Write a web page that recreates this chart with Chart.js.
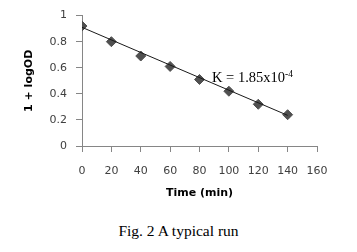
<!DOCTYPE html>
<html>
<head>
<meta charset="utf-8">
<script src="https://cdn.jsdelivr.net/npm/chart.js@4"></script>
<style>
  html, body { margin: 0; padding: 0; background: #fff; }
  #wrap { position: relative; width: 357px; height: 252px; }
  #chartBox { position: absolute; left: 0; top: 0; width: 357px; height: 200px; }
  #caption {
    position: absolute; left: 0; top: 223px; width: 357px; line-height: 16px;
    text-align: center; font-size: 15.5px; font-family: "Liberation Serif", serif; color: #000;
  }
</style>
</head>
<body>
<div id="wrap">
  <div id="chartBox"><canvas id="chartRun"></canvas></div>
  <div id="caption">Fig. 2 A typical run</div>
</div>
<script>
const timeMin = [0, 20, 40, 60, 80, 100, 120, 140];
const logOD = [0.92, 0.80, 0.69, 0.61, 0.51, 0.42, 0.32, 0.24];
const trendTime = [0, 140];
const trendValue = [0.91, 0.235];
const xTicks = [0, 20, 40, 60, 80, 100, 120, 140, 160];
const yTicks = [0, 0.2, 0.4, 0.6, 0.8, 1];

const axisGrey = '#868686';
const labelFont = { family: 'DejaVu Sans', size: 11 };
const titleFont = { family: 'DejaVu Sans', size: 11, weight: 'bold' };

// K label sits on the chart like the excel text box
const kLabel = {
    id: 'kLabel',
    afterDatasetsDraw(chart) {
        const ctx = chart.ctx;
        const x = chart.scales.x.getPixelForValue(88.5);
        const y = chart.scales.y.getPixelForValue(0.49);
        ctx.save();
        ctx.fillStyle = '#000';
        ctx.textBaseline = 'alphabetic';
        ctx.font = '14.5px "Liberation Serif"';
        const main = 'K = 1.85x10';
        ctx.fillText(main, x, y);
        const w = ctx.measureText(main).width;
        ctx.font = '9.5px "Liberation Serif"';
        ctx.fillText('-4', x + w, y - 5.5);
        ctx.restore();
    }
};

const ctx = document.getElementById('chartRun').getContext('2d');
new Chart(ctx, {
    type: 'scatter',
    data: {
        datasets: [
            {
                label: 'trend',
                data: trendTime.map((t, i) => ({ x: t, y: trendValue[i] })),
                showLine: true,
                borderColor: '#1a1a1a',
                borderWidth: 1,
                pointRadius: 0,
                order: 0
            },
            {
                label: '1 + logOD',
                data: timeMin.map((t, i) => ({ x: t, y: logOD[i] })),
                pointStyle: 'rectRot',
                pointRadius: 5,
                backgroundColor: '#505050',
                borderColor: '#505050',
                borderWidth: 1,
                order: 1
            }
        ]
    },
    options: {
        responsive: true,
        maintainAspectRatio: false,
        animation: false,
        layout: { padding: { left: 23, right: 40, top: 10, bottom: 0 } },
        plugins: { legend: { display: false }, tooltip: { enabled: false } },
        scales: {
            x: {
                type: 'linear',
                min: 0,
                max: 160,
                afterBuildTicks: (s) => { s.ticks = xTicks.map(v => ({ value: v })); },
                afterFit: (s) => { s.height = 54; },
                grid: { drawOnChartArea: false, drawTicks: true, tickLength: 6, color: axisGrey },
                border: { color: axisGrey },
                ticks: { color: '#404040', font: labelFont, padding: 13, maxRotation: 0 },
                title: { display: true, text: 'Time (min)', color: '#000', font: titleFont, padding: 0 }
            },
            y: {
                min: 0,
                max: 1,
                afterBuildTicks: (s) => { s.ticks = yTicks.map(v => ({ value: v })); },
                afterFit: (s) => { s.width = 59; },
                grid: { drawOnChartArea: false, drawTicks: true, tickLength: 6, color: axisGrey },
                border: { color: axisGrey },
                ticks: { color: '#404040', font: labelFont, padding: 9, callback: (v) => String(v) },
                title: { display: true, text: '1 + logOD', color: '#000', font: titleFont, padding: 0 }
            }
        }
    },
    plugins: [kLabel]
});
</script>
</body>
</html>
